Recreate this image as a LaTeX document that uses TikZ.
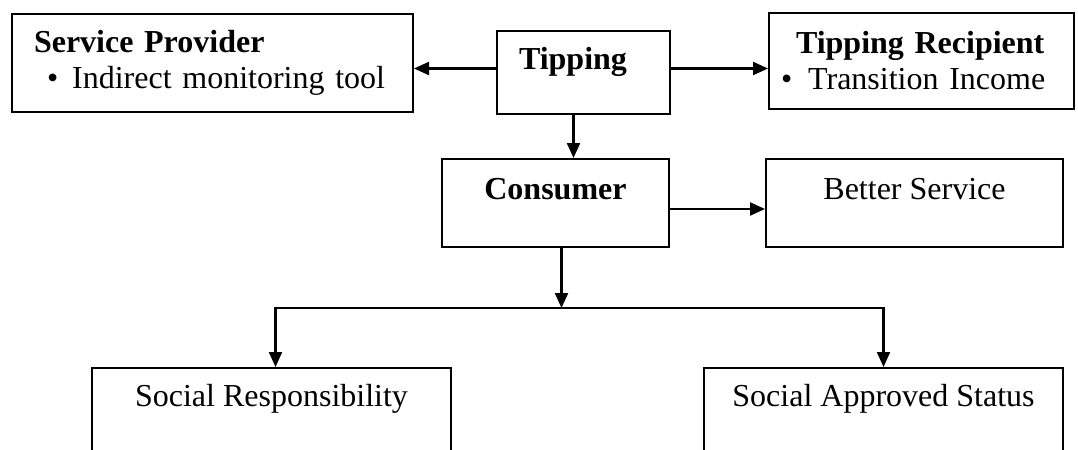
\documentclass[tikz,border=0pt]{standalone}
\usepackage{fontspec}
\setmainfont{Liberation Serif}
\usetikzlibrary{arrows.meta,calc}

\begin{document}
\begin{tikzpicture}[
  x=0.5pt, y=-0.5pt,
  font=\fontsize{16}{18}\selectfont,
  >={Triangle[length=7.5pt,width=6.5pt]},
  box/.style ={draw=black, line width=1pt, anchor=north west, inner sep=0pt},
  lbox/.style={box, align=left, inner xsep=11pt},
  tbox/.style={box, align=center, text height=20pt, text depth=24pt},
  flow/.style={->, line width=1.1pt},
]
\useasboundingbox (0,0) rectangle (1078,450);

% ---------- Top row ----------
\node[lbox, text width=178.5pt, minimum height=49pt] (sp) at (11,13)
  {\textbf{Service Provider}\\\hspace*{6.5pt}\textbullet\hspace{7pt}Indirect monitoring tool};
\node[lbox, text width=64.5pt, text height=19pt, text depth=22.5pt] (tip) at (496,30)
  {\textbf{Tipping}};
\node[lbox, inner xsep=6pt, text width=140.5pt, minimum height=48pt] (rec) at (768,12)
  {\hspace*{7.5pt}\textbf{Tipping Recipient}\\\textbullet\hspace{8pt}Transition Income};

% ---------- Middle row ----------
\node[tbox, minimum width=113.5pt] (con) at (441,158) {\textbf{Consumer}};
\node[tbox, minimum width=148.5pt] (bs)  at (765,158) {Better Service};

% ---------- Bottom row (cut off by the page edge) ----------
\node[tbox, minimum width=179.5pt, text height=19pt, text depth=40pt] (sr)  at (91,367)
  {Social Responsibility};
\node[tbox, minimum width=179.5pt, text height=19pt, text depth=40pt] (sas) at (703,367)
  {Social Approved Status};

% ---------- Connectors ----------
\draw[flow] ([yshift=2pt]tip.west) -- ([yshift=2pt]tip.west -| sp.east);
\draw[flow] ([yshift=2pt]tip.east) -- ([yshift=2pt]tip.east -| rec.west);
\draw[flow] ([xshift=-5pt]tip.south) -- ([xshift=-5pt]tip.south |- con.north);
\draw[flow] ([yshift=-3pt]con.east) -- ([yshift=-3pt]con.east -| bs.west);

\coordinate (split) at ([xshift=3pt,yshift=-30pt]con.south);
\draw[flow] ([xshift=3pt]con.south) -- (split);
\draw[flow] (split) -| ([xshift=2pt]sr.north);
\draw[flow] (split) -| (sas.north);

\end{tikzpicture}
\end{document}
